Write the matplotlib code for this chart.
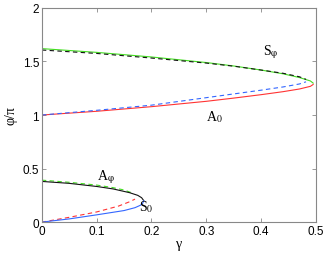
import matplotlib
matplotlib.use("Agg")
import matplotlib.pyplot as plt

plt.rcParams["mathtext.fontset"] = "stix"

# upper branch (solid)
g_up = [0, 0.1, 0.2, 0.3, 0.35, 0.4, 0.44, 0.47, 0.49, 0.495]
phi_green_up = [1.62, 1.585, 1.542, 1.49, 1.458, 1.42, 1.385, 1.35, 1.318, 1.298]
phi_red_up = [1.0, 1.035, 1.078, 1.128, 1.158, 1.19, 1.218, 1.243, 1.268, 1.285]
# upper branch (dashed)
g_up_d = [0, 0.1, 0.2, 0.3, 0.35, 0.4, 0.44, 0.47, 0.482]
phi_black_up = [1.607, 1.575, 1.532, 1.485, 1.456, 1.42, 1.39, 1.357, 1.333]
phi_blue_up = [1.0, 1.044, 1.092, 1.162, 1.197, 1.232, 1.262, 1.29, 1.31]

# lower branch
g_lo_k = [0, 0.05, 0.1, 0.13, 0.16, 0.175, 0.182, 0.186]
phi_black_lo = [0.38, 0.362, 0.333, 0.31, 0.275, 0.25, 0.228, 0.2]
g_lo_b = [0, 0.05, 0.1, 0.15, 0.17, 0.18, 0.184, 0.186]
phi_blue_lo = [0, 0.03, 0.068, 0.108, 0.135, 0.158, 0.177, 0.2]
g_lo_r = [0, 0.05, 0.1, 0.14, 0.16, 0.17]
phi_red_lo = [0, 0.045, 0.095, 0.15, 0.19, 0.215]
g_lo_g = [0, 0.05, 0.1, 0.13, 0.15, 0.165]
phi_green_lo = [0.392, 0.372, 0.346, 0.322, 0.3, 0.272]

green = "#44dd22"
red = "#ff3333"
blue = "#3366ff"
black = "#111111"

fig = plt.figure(figsize=(3.27, 2.55), dpi=100)
ax = fig.add_axes([0.128, 0.125, 0.838, 0.84])

lw = 0.8
dash = (0, (4, 3))
ax.plot(g_up, phi_green_up, color=green, lw=lw)
ax.plot(g_up, phi_red_up, color=red, lw=lw)
ax.plot(g_up_d, phi_black_up, color=black, lw=lw, ls=dash)
ax.plot(g_up_d, phi_blue_up, color=blue, lw=lw, ls=dash)

ax.plot(g_lo_g, phi_green_lo, color=green, lw=lw, ls=dash)
ax.plot(g_lo_r, phi_red_lo, color=red, lw=lw, ls=dash)
ax.plot(g_lo_k, phi_black_lo, color=black, lw=lw)
ax.plot(g_lo_b, phi_blue_lo, color=blue, lw=lw)

serif = ["Liberation Serif", "DejaVu Serif"]
ax.text(0.403, 1.57, r"S$_{\mathrm{φ}}$", fontsize=10, family=serif)
ax.text(0.30, 0.955, r"A$_{\mathrm{0}}$", fontsize=10, family=serif)
ax.text(0.101, 0.405, r"A$_{\mathrm{φ}}$", fontsize=10, family=serif)
ax.text(0.178, 0.11, r"S$_{\mathrm{0}}$", fontsize=10, family=serif)

ax.set_xlim(0, 0.5)
ax.set_ylim(0, 2)
ax.set_xticks([0, 0.1, 0.2, 0.3, 0.4, 0.5])
ax.set_xticklabels(["0", "0.1", "0.2", "0.3", "0.4", "0.5"])
ax.set_yticks([0, 0.5, 1, 1.5, 2])
ax.set_yticklabels(["0", "0.5", "1", "1.5", "2"])
ax.tick_params(direction="in", top=True, right=True, length=3, width=0.6,
               color="#888888", labelsize=8.5, pad=2)
for lab in ax.get_xticklabels() + ax.get_yticklabels():
    lab.set_family(["Liberation Sans", "DejaVu Sans"])
for sp in ax.spines.values():
    sp.set_color("#888888")
    sp.set_linewidth(0.8)

ax.set_xlabel("γ", fontsize=10, family=serif, labelpad=0)
ax.set_ylabel("φ/π", fontsize=10, family=serif, labelpad=4)

fig.savefig("out.png", dpi=100)
